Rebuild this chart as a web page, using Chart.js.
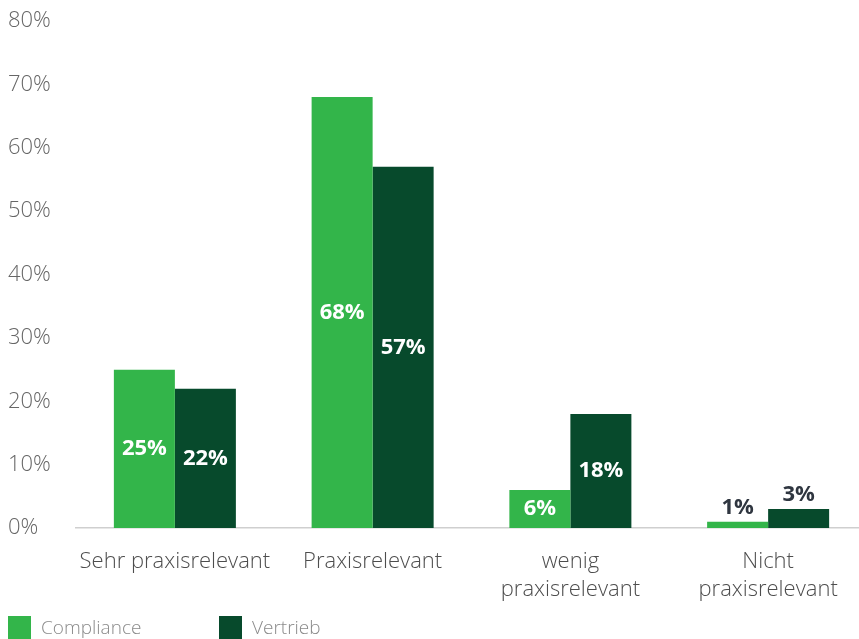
<!DOCTYPE html>
<html>
<head>
<meta charset="utf-8">
<script src="https://cdn.jsdelivr.net/npm/chart.js@4/dist/chart.umd.min.js"></script>
<style>
  html, body { margin: 0; padding: 0; background: #fff; overflow: hidden; width: 859px; height: 639px; }
  #wrap { width: 867px; height: 646px; position: relative; }
</style>
</head>
<body>
<div id="wrap"><canvas id="c"></canvas></div>
<script>
const categories = [
  ['Sehr praxisrelevant'],
  ['Praxisrelevant'],
  ['wenig', 'praxisrelevant'],
  ['Nicht', 'praxisrelevant']
];
const seriesNames = ['Compliance', 'Vertrieb'];
const compliance = [25, 68, 6, 1];
const vertrieb = [22, 57, 18, 3];
const yTicks = [0, 10, 20, 30, 40, 50, 60, 70, 80];

const FONT = '"Open Sans", "Noto Sans", sans-serif';
const GREEN = '#33b54a';
const DARK = '#074a2c';

// Value labels: centred inside tall bars, above short ones
const valueLabels = {
  id: 'valueLabels',
  afterDatasetsDraw(chart) {
    const ctx = chart.ctx;
    ctx.save();
    ctx.font = 'bold 22px ' + FONT;
    ctx.textAlign = 'center';
    ctx.textBaseline = 'middle';
    chart.data.datasets.forEach((ds, di) => {
      const meta = chart.getDatasetMeta(di);
      meta.data.forEach((bar, i) => {
        const v = ds.data[i];
        if (v <= 3) {
          ctx.fillStyle = '#2f3640';
          ctx.fillText(v + '%', bar.x, bar.y - 14);
        } else {
          ctx.fillStyle = '#ffffff';
          ctx.fillText(v + '%', bar.x, (bar.y + bar.base) / 2);
        }
      });
    });
    ctx.restore();
  }
};

// Legend row along the bottom-left edge
const bottomLegend = {
  id: 'bottomLegend',
  afterDraw(chart) {
    const ctx = chart.ctx;
    const items = [{ x: 8 }, { x: 219 }];
    ctx.save();
    ctx.font = '300 19px ' + FONT;
    ctx.textBaseline = 'middle';
    ctx.textAlign = 'left';
    chart.data.datasets.forEach((ds, i) => {
      const it = items[i];
      ctx.fillStyle = ds.backgroundColor;
      ctx.fillRect(it.x, 616, 23, 23);
      ctx.fillStyle = '#8a8a8a';
      ctx.fillText(ds.label, it.x + 33, 629);
    });
    ctx.restore();
  }
};

new Chart(document.getElementById('c'), {
  type: 'bar',
  data: {
    labels: categories,
    datasets: [
      { label: seriesNames[0], data: compliance, backgroundColor: GREEN },
      { label: seriesNames[1], data: vertrieb, backgroundColor: DARK }
    ]
  },
  options: {
    responsive: true,
    maintainAspectRatio: false,
    animation: false,
    devicePixelRatio: 1,
    layout: { padding: { left: 8, right: 0, top: 21, bottom: 22 } },
    datasets: { bar: { categoryPercentage: 0.617, barPercentage: 1.0 } },
    plugins: {
      tooltip: { enabled: false },
      legend: { display: false }
    },
    scales: {
      x: {
        grid: { display: false, drawTicks: false },
        border: { display: true, color: '#cfcfcf', width: 1.5 },
        ticks: {
          color: '#4d4d4d',
          padding: 20,
          font: { family: FONT, size: 22, weight: '300', lineHeight: 1.27 },
          maxRotation: 0,
          autoSkip: false
        }
      },
      y: {
        min: 0,
        max: 80,
        afterBuildTicks(scale) { scale.ticks = yTicks.map(v => ({ value: v })); },
        afterFit(scale) { scale.width = 68; },
        grid: { display: false, drawTicks: false },
        border: { display: false },
        ticks: {
          crossAlign: 'far',
          padding: 0,
          color: '#666',
          font: { family: FONT, size: 22, weight: '300' },
          callback: v => v + '%'
        }
      }
    }
  },
  plugins: [valueLabels, bottomLegend]
});
</script>
</body>
</html>
